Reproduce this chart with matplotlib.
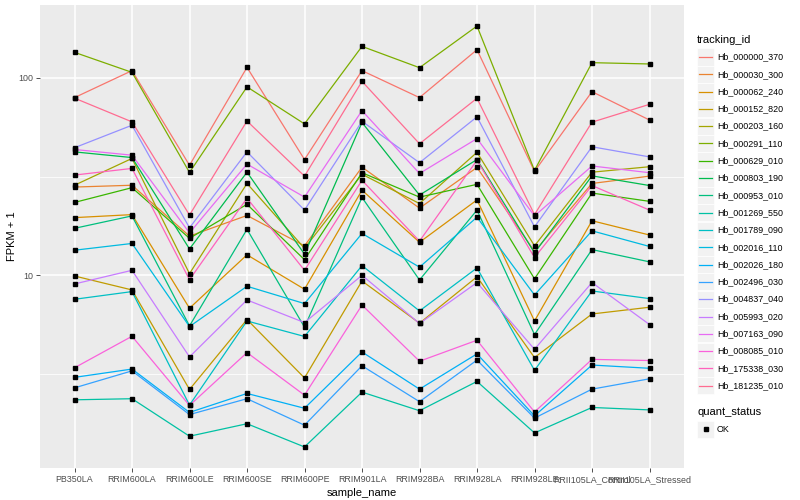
import numpy as np
import matplotlib
matplotlib.use('Agg')
import matplotlib.pyplot as plt
from matplotlib.patches import Rectangle
from matplotlib.lines import Line2D

plt.rcParams['font.family'] = ['Liberation Sans', 'DejaVu Sans']

samples = ['PB350LA', 'RRIM600LA', 'RRIM600LE', 'RRIM600SE', 'RRIM600PE',
           'RRIM901LA', 'RRIM928BA', 'RRIM928LA', 'RRIM928LE',
           'RRII105LA_Control', 'RRII105LA_Stressed']

tracking_ids = ['Hb_000000_370', 'Hb_000030_300', 'Hb_000062_240', 'Hb_000152_820',
                'Hb_000203_160', 'Hb_000291_110', 'Hb_000629_010', 'Hb_000803_190',
                'Hb_000953_010', 'Hb_001269_550', 'Hb_001789_090', 'Hb_002016_110',
                'Hb_002026_180', 'Hb_002496_030', 'Hb_004837_040', 'Hb_005993_020',
                'Hb_007163_090', 'Hb_008085_010', 'Hb_175338_030', 'Hb_181235_010']

# ggplot hue palette, 20 levels
colors = ['#F8766D', '#EA8331', '#D89000', '#C09B00', '#A3A500', '#7CAE00', '#39B600',
          '#00BB4E', '#00BF7D', '#00C1A3', '#00BFC4', '#00BAE0', '#00B0F6', '#35A2FF',
          '#9590FF', '#C77CFF', '#E76BF3', '#FA62DB', '#FF62BC', '#FF6C91']

# FPKM + 1, one list per gene, in sample order
hb_000000_370 = [79.5, 108.9, 36.1, 113.1, 38.6, 108.9, 79.5, 139.0, 33.6, 85.2, 61.2]
hb_000030_300 = [28.0, 28.6, 15.8, 20.1, 14.1, 35.3, 21.9, 35.2, 13.2, 29.2, 31.8]
hb_000062_240 = [19.6, 20.3, 6.81, 12.7, 8.50, 27.0, 14.7, 24.1, 5.87, 18.9, 16.0]
hb_000152_820 = [9.92, 8.43, 2.64, 5.97, 3.02, 9.36, 5.72, 9.83, 3.83, 6.37, 6.89]
hb_000203_160 = [28.6, 39.1, 10.2, 29.2, 13.7, 32.5, 23.1, 42.0, 14.1, 33.3, 35.5]
hb_000291_110 = [134.8, 106.7, 33.2, 90.1, 58.5, 144.5, 112.7, 183.2, 34.0, 119.5, 117.7]
hb_000629_010 = [23.4, 27.8, 15.4, 22.9, 12.0, 33.1, 24.9, 28.9, 9.6, 26.1, 23.7]
hb_000803_190 = [42.2, 39.5, 13.6, 33.3, 12.8, 59.5, 25.5, 38.6, 13.0, 31.9, 28.5]
hb_000953_010 = [17.3, 20.0, 5.54, 17.1, 5.46, 24.8, 9.47, 21.4, 5.01, 13.5, 11.7]
hb_001269_550 = [2.34, 2.37, 1.53, 1.77, 1.35, 2.56, 2.06, 2.90, 1.59, 2.14, 2.08]
hb_001789_090 = [7.56, 8.27, 2.20, 5.87, 4.90, 11.2, 6.60, 10.9, 3.30, 8.33, 7.62]
hb_002016_110 = [13.4, 14.5, 5.5, 8.80, 7.19, 16.3, 11.0, 19.7, 7.95, 16.8, 14.0]
hb_002026_180 = [3.04, 3.35, 2.02, 2.52, 2.12, 4.09, 2.65, 4.00, 1.94, 3.51, 3.38]
hb_002496_030 = [2.69, 3.28, 1.97, 2.37, 1.74, 3.48, 2.29, 3.72, 1.89, 2.65, 2.99]
hb_004837_040 = [44.3, 57.6, 17.4, 42.2, 21.4, 60.3, 37.2, 63.5, 17.6, 44.8, 39.8]
hb_005993_020 = [9.04, 10.6, 3.86, 7.50, 5.76, 10.0, 5.70, 9.19, 4.22, 9.19, 5.63]
hb_007163_090 = [43.4, 40.6, 16.4, 36.6, 24.9, 68.3, 32.8, 49.3, 20.0, 35.8, 33.1]
hb_008085_010 = [3.40, 4.91, 2.19, 4.06, 2.47, 7.07, 3.67, 4.69, 2.03, 3.75, 3.70]
hb_175338_030 = [32.2, 34.8, 9.5, 24.6, 10.6, 30.3, 14.9, 38.3, 12.3, 28.5, 21.4]
hb_181235_010 = [79.0, 59.9, 20.2, 60.5, 31.8, 96.1, 46.4, 78.9, 20.3, 59.7, 73.5]

series = [hb_000000_370, hb_000030_300, hb_000062_240, hb_000152_820, hb_000203_160,
          hb_000291_110, hb_000629_010, hb_000803_190, hb_000953_010, hb_001269_550,
          hb_001789_090, hb_002016_110, hb_002026_180, hb_002496_030, hb_004837_040,
          hb_005993_020, hb_007163_090, hb_008085_010, hb_175338_030, hb_181235_010]

W, H = 800, 500
fig = plt.figure(figsize=(8, 5), dpi=100)
# panel in pixels: x 40..684, y 5..468
ax = fig.add_axes([40 / W, 1 - 468 / H, (684 - 40) / W, (468 - 5) / H])
ax.set_facecolor('#EBEBEB')
for s in ax.spines.values():
    s.set_visible(False)

x = np.arange(len(samples))
for vals, c in zip(series, colors):
    ax.plot(x, vals, color=c, lw=0.9, zorder=3)
for vals in series:
    ax.plot(x, vals, ls='none', marker='s', ms=2.2, color='black', zorder=4)

ax.set_yscale('log')
allv = np.log10(np.concatenate(series))
lo, hi = allv.min(), allv.max()
pad = 0.05 * (hi - lo)
ax.set_ylim(10 ** (lo - pad), 10 ** (hi + pad))
ax.set_xlim(-0.6, len(samples) - 0.4)

ax.set_yticks([10, 100])
ax.set_yticklabels(['10', '100'])
ax.set_yticks([10 ** 0.5, 10 ** 1.5], minor=True)
ax.yaxis.set_minor_formatter(plt.NullFormatter())
ax.set_xticks(x)
ax.set_xticklabels(samples)
ax.grid(which='major', color='white', lw=1.1, zorder=0)
ax.grid(which='minor', axis='y', color='white', lw=0.55, zorder=0)
ax.set_axisbelow(True)
ax.tick_params(which='major', length=3, width=0.6, color='#333333',
               labelsize=6.4, labelcolor='#4D4D4D', pad=2)
ax.tick_params(which='minor', length=0)

ax.set_xlabel('sample_name', fontsize=8, labelpad=3)
ax.set_ylabel('FPKM + 1', fontsize=8, labelpad=1)

# legend, ggplot style
def fx(px):
    return px / W

def fy(py):
    return 1 - py / H

fig.text(fx(697), fy(40), 'tracking_id', fontsize=8, va='center', ha='left')
for i, (name, c) in enumerate(zip(tracking_ids, colors)):
    cy = 57 + i * 17.3
    fig.patches.append(Rectangle((fx(697), fy(cy + 8.5)), 17 / W, 17 / H,
                                 transform=fig.transFigure, facecolor='#F2F2F2',
                                 edgecolor='white', lw=0.5))
    fig.lines.append(Line2D([fx(699), fx(712)], [fy(cy), fy(cy)],
                            transform=fig.transFigure, color=c, lw=0.9))
    fig.text(fx(717), fy(cy), name, fontsize=6.4, va='center', ha='left')

fig.text(fx(697), fy(412), 'quant_status', fontsize=8, va='center', ha='left')
fig.patches.append(Rectangle((fx(697), fy(429 + 8.5)), 17 / W, 17 / H,
                             transform=fig.transFigure, facecolor='#F2F2F2',
                             edgecolor='white', lw=0.5))
fig.lines.append(Line2D([fx(705.5)], [fy(429)], transform=fig.transFigure,
                        marker='s', ms=2.2, color='black', ls='none'))
fig.text(fx(717), fy(429), 'OK', fontsize=6.4, va='center', ha='left')

fig.savefig('out.png', dpi=100)
